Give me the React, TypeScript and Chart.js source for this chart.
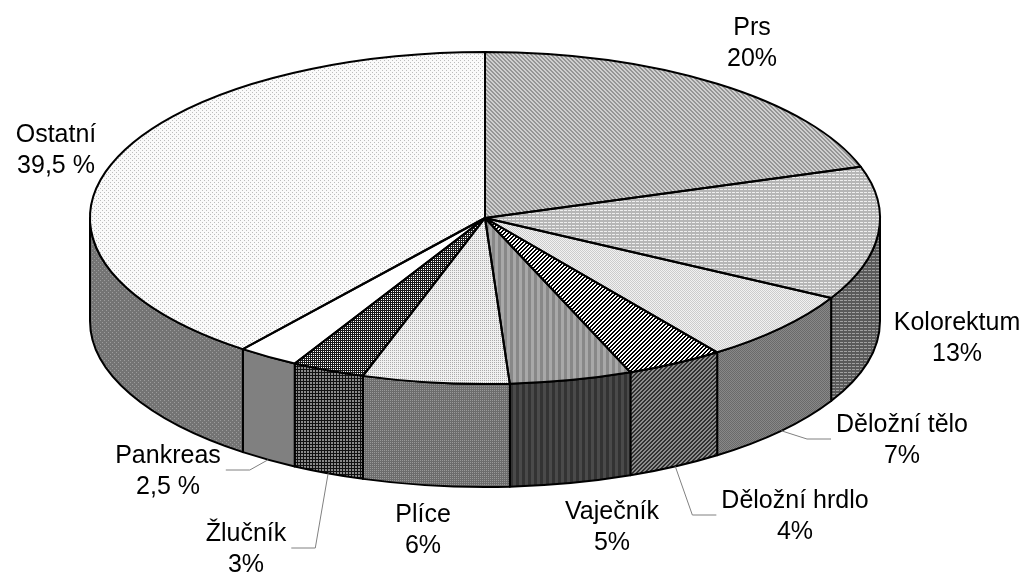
import React, { useEffect, useRef } from 'react';
import { Chart, registerables } from 'chart.js';

Chart.register(...registerables);

const W = 1028;
const H = 574;

// ---- data ----
const categories = ['Prs', 'Kolorektum', 'Děložní tělo', 'Děložní hrdlo', 'Vaječník', 'Plíce', 'Žlučník', 'Pankreas', 'Ostatní'];
const shares = [20, 13, 7, 4, 5, 6, 3, 2.5, 39.5];

// ---- label layout (centre x, first baseline, leader side) ----
const labelCenterX = [752, 957, 902, 795, 612, 423, 246, 168, 56];
const labelBaseline = [35, 330, 432, 508, 519, 522, 541, 463, 142];
const leaderSide = ['', '', 'left', 'left', '', '', 'right', 'right', ''];

// ---- 3D geometry ----
const CX = 485;
const CY = 218;
const RX = 395;
const RY = 166;
const DEPTH = 103;
const FONT = '25px "Liberation Sans", Arial, sans-serif';
const LINE_H = 31;

type PatSpec = { w: number; h: number; bg: string; fg: string; on: (x: number, y: number) => boolean } | string;

const topSpecs: PatSpec[] = [
  { w: 4, h: 4, bg: '#d0d0d0', fg: '#969696', on: (x, y) => (x - y + 8) % 4 < 2 },
  { w: 4, h: 3, bg: '#b6b6b6', fg: '#eeeeee', on: (x, y) => y === 0 && x !== 3 },
  { w: 2, h: 2, bg: '#f2f2f2', fg: '#cccccc', on: (x, y) => (x + y) % 2 === 0 },
  { w: 4, h: 4, bg: '#ffffff', fg: '#000000', on: (x, y) => (x + y) % 4 < 2 },
  { w: 6, h: 1, bg: '#a8a8a8', fg: '#888888', on: (x) => x < 3 },
  { w: 2, h: 2, bg: '#f0f0f0', fg: '#acacac', on: (x, y) => x === 0 && y === 0 },
  { w: 2, h: 2, bg: '#1a1a1a', fg: '#ffffff', on: (x, y) => x === 1 && y === 1 },
  '#ffffff',
  { w: 4, h: 4, bg: '#fafafa', fg: '#bcbcbc', on: (x, y) => (x === 0 && y === 0) || (x === 2 && y === 2) },
];

const wallSpecs: PatSpec[] = [
  '#9a9a9a',
  { w: 4, h: 3, bg: '#5a5a5a', fg: '#a0a0a0', on: (x, y) => y === 0 && x !== 3 },
  { w: 2, h: 2, bg: '#888888', fg: '#6a6a6a', on: (x, y) => (x + y) % 2 === 0 },
  { w: 4, h: 4, bg: '#8c8c8c', fg: '#303030', on: (x, y) => (x + y) % 4 < 2 },
  { w: 6, h: 1, bg: '#4a4a4a', fg: '#333333', on: (x) => x < 3 },
  { w: 2, h: 2, bg: '#6c6c6c', fg: '#989898', on: (x, y) => x === 0 && y === 0 },
  { w: 3, h: 3, bg: '#8a8a8a', fg: '#111111', on: (x, y) => x === 0 || y === 0 },
  '#808080',
  { w: 4, h: 4, bg: '#747474', fg: '#9c9c9c', on: (x, y) => (x === 0 && y === 0) || (x === 2 && y === 2) },
];

function makeFill(ctx: CanvasRenderingContext2D, spec: PatSpec): string | CanvasPattern {
  if (typeof spec === 'string') return spec;
  const c = document.createElement('canvas');
  c.width = spec.w;
  c.height = spec.h;
  const g = c.getContext('2d')!;
  g.fillStyle = spec.bg;
  g.fillRect(0, 0, spec.w, spec.h);
  g.fillStyle = spec.fg;
  for (let y = 0; y < spec.h; y++) {
    for (let x = 0; x < spec.w; x++) {
      if (spec.on(x, y)) g.fillRect(x, y, 1, 1);
    }
  }
  return ctx.createPattern(c, 'repeat') || spec.bg;
}

function formatShare(v: number): string {
  return Number.isInteger(v) ? `${v}%` : `${String(v).replace('.', ',')} %`;
}

export default function App() {
  const canvasRef = useRef<HTMLCanvasElement | null>(null);

  useEffect(() => {
    const canvas = canvasRef.current;
    if (!canvas) return;
    const ctx0 = canvas.getContext('2d')!;
    const topFills = topSpecs.map((s) => makeFill(ctx0, s));
    const wallFills = wallSpecs.map((s) => makeFill(ctx0, s));

    const pie3d = {
      id: 'pie3d',
      beforeDatasetsDraw(chart: any) {
        const ctx: CanvasRenderingContext2D = chart.ctx;
        const arcs = chart.getDatasetMeta(0).data as any[];
        // side walls (front half only)
        ctx.save();
        ctx.lineWidth = 2;
        ctx.strokeStyle = '#000';
        ctx.lineJoin = 'round';
        arcs.forEach((arc, i) => {
          const s = arc.startAngle as number;
          const e = arc.endAngle as number;
          for (const k of [-1, 0, 1]) {
            const lo = 2 * Math.PI * k;
            const hi = lo + Math.PI;
            const a = Math.max(s, lo);
            const b = Math.min(e, hi);
            if (b - a > 1e-6) {
              const aa = a - lo;
              const bb = b - lo;
              ctx.beginPath();
              ctx.ellipse(CX, CY, RX, RY, 0, aa, bb, false);
              ctx.lineTo(CX + RX * Math.cos(bb), CY + DEPTH + RY * Math.sin(bb));
              ctx.ellipse(CX, CY + DEPTH, RX, RY, 0, bb, aa, true);
              ctx.closePath();
              ctx.fillStyle = wallFills[i] as any;
              ctx.fill();
              ctx.stroke();
            }
          }
        });
        ctx.restore();

        // squash the library's circular pie into the top ellipse
        const a0 = arcs[0];
        const sx = RX / a0.outerRadius;
        const sy = RY / a0.outerRadius;
        topFills.forEach((p: any) => {
          if (p && typeof p !== 'string' && p.setTransform) {
            p.setTransform(new DOMMatrix().translateSelf(a0.x, a0.y).scaleSelf(1 / sx, 1 / sy).translateSelf(-CX, -CY));
          }
        });
        ctx.save();
        ctx.translate(CX, CY);
        ctx.scale(sx, sy);
        ctx.translate(-a0.x, -a0.y);
      },
      afterDatasetsDraw(chart: any) {
        const ctx: CanvasRenderingContext2D = chart.ctx;
        ctx.restore();
        const arcs = chart.getDatasetMeta(0).data as any[];

        // outlines of the top face
        ctx.save();
        ctx.lineWidth = 2;
        ctx.strokeStyle = '#000';
        ctx.lineJoin = 'round';
        arcs.forEach((arc) => {
          ctx.beginPath();
          ctx.moveTo(CX, CY);
          ctx.ellipse(CX, CY, RX, RY, 0, arc.startAngle, arc.endAngle, false);
          ctx.closePath();
          ctx.stroke();
        });
        ctx.restore();

        // labels & leader lines
        ctx.save();
        ctx.font = FONT;
        ctx.fillStyle = '#000';
        ctx.textAlign = 'center';
        ctx.textBaseline = 'alphabetic';
        arcs.forEach((arc, i) => {
          const name = categories[i];
          const val = formatShare(shares[i]);
          const x = labelCenterX[i];
          const y = labelBaseline[i];
          ctx.fillText(name, x, y);
          ctx.fillText(val, x, y + LINE_H);
          const side = leaderSide[i];
          if (side) {
            const mid = (arc.startAngle + arc.endAngle) / 2;
            const sxp = CX + RX * Math.cos(mid);
            const syp = CY + DEPTH + RY * Math.sin(mid);
            const wBox = Math.max(ctx.measureText(name).width, ctx.measureText(val).width);
            const my = y + 7;
            const ex = side === 'left' ? x - wBox / 2 - 5 : x + wBox / 2 + 5;
            const elx = side === 'left' ? ex - 24 : ex + 24;
            ctx.beginPath();
            ctx.moveTo(sxp, syp);
            ctx.lineTo(elx, my);
            ctx.lineTo(ex, my);
            ctx.strokeStyle = '#808080';
            ctx.lineWidth = 1;
            ctx.stroke();
          }
        });
        ctx.restore();
      },
    };

    const chart = new Chart(canvas, {
      type: 'pie',
      data: {
        labels: categories,
        datasets: [
          {
            data: shares,
            backgroundColor: topFills as any,
            borderWidth: 0,
            hoverOffset: 0,
            offset: 0,
            clip: false as any,
          },
        ],
      },
      options: {
        responsive: false,
        animation: false,
        devicePixelRatio: 1,
        events: [],
        layout: { padding: 0 },
        plugins: {
          legend: { display: false },
          tooltip: { enabled: false },
        },
      },
      plugins: [pie3d as any],
    });

    return () => {
      chart.destroy();
    };
  }, []);

  return (
    <div style={{ position: 'absolute', left: 0, top: 0, width: W, height: H, background: '#fff' }}>
      <canvas ref={canvasRef} width={W} height={H} style={{ display: 'block' }} />
    </div>
  );
}
